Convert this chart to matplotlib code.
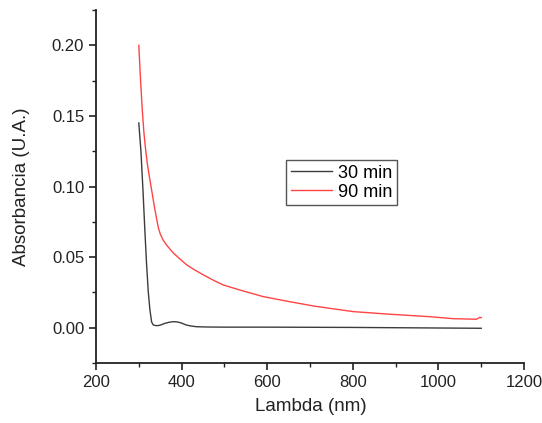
import matplotlib
matplotlib.use('Agg')
import matplotlib.pyplot as plt
from matplotlib.ticker import MultipleLocator

plt.rcParams['font.family'] = ['Liberation Sans', 'DejaVu Sans']

# absorbance spectra
lam_30 = [300, 305, 310, 314, 318, 322, 326, 330, 334, 340, 345, 352, 360,
          370, 381, 390, 400, 410, 422, 435, 460, 500, 600, 700, 800, 900,
          1000, 1100]
abs_30 = [0.145, 0.125, 0.096, 0.070, 0.046, 0.026, 0.0126, 0.004, 0.0019,
          0.0015, 0.0015, 0.002, 0.003, 0.0038, 0.0043, 0.0041, 0.0033,
          0.002, 0.0012, 0.0007, 0.0005, 0.0004, 0.0004, 0.0003, 0.0002,
          0.0, -0.0002, -0.0004]

lam_90 = [300, 304, 308, 312, 316, 320, 325, 330, 336, 342, 346, 350, 357,
          365, 381, 395, 412, 430, 451, 475, 497, 536, 591, 653, 708, 747,
          801, 879, 980, 1035, 1089, 1097, 1100]
abs_90 = [0.200, 0.176, 0.155, 0.138, 0.126, 0.116, 0.1065, 0.0975, 0.0865,
          0.0765, 0.0705, 0.0665, 0.062, 0.0585, 0.0528, 0.049, 0.0445, 0.041,
          0.0374, 0.0335, 0.0303, 0.0267, 0.022, 0.0184, 0.0154, 0.0137,
          0.0114, 0.0097, 0.0078, 0.0064, 0.006, 0.0074, 0.007]

fig = plt.figure(figsize=(5.42, 4.23), dpi=100)
ax = fig.add_axes([0.1771, 0.1418, 0.7897, 0.8346])

ax.plot(lam_30, abs_30, color='#3c3c3c', linewidth=1.0, label='30 min')
ax.plot(lam_90, abs_90, color='#ff4444', linewidth=1.0, label='90 min')

ax.set_xlim(200, 1200)
ax.set_ylim(-0.025, 0.225)
ax.xaxis.set_major_locator(MultipleLocator(200))
ax.xaxis.set_minor_locator(MultipleLocator(100))
ax.yaxis.set_major_locator(MultipleLocator(0.05))
ax.yaxis.set_minor_locator(MultipleLocator(0.025))
ax.yaxis.set_major_formatter(plt.FuncFormatter(lambda v, p: f'{v:.2f}'))

for s in ['top', 'right']:
    ax.spines[s].set_visible(False)
for s in ['left', 'bottom']:
    ax.spines[s].set_linewidth(1.3)
    ax.spines[s].set_color('#222222')

ax.tick_params(which='major', direction='out', length=5, width=1.2,
               labelsize=12, colors='#222222')
ax.tick_params(which='minor', direction='out', length=3, width=1.0,
               colors='#222222')

ax.set_xlabel('Lambda (nm)', fontsize=13.5, color='#222222')
ax.set_ylabel('Absorbancia (U.A.)', fontsize=13.5, color='#222222')
ax.xaxis.set_label_coords(0.501, -0.099)
ax.yaxis.set_label_coords(-0.155, 0.5)

leg = ax.legend(loc='upper left', bbox_to_anchor=(0.5277, 0.6217),
                bbox_transform=fig.transFigure, fontsize=13, fancybox=False,
                framealpha=1, edgecolor='#555555', borderpad=0.25,
                handlelength=2.3, handletextpad=0.35, labelspacing=0.12,
                borderaxespad=0)
leg.get_frame().set_linewidth(1.0)

fig.savefig('out.png', dpi=100)
